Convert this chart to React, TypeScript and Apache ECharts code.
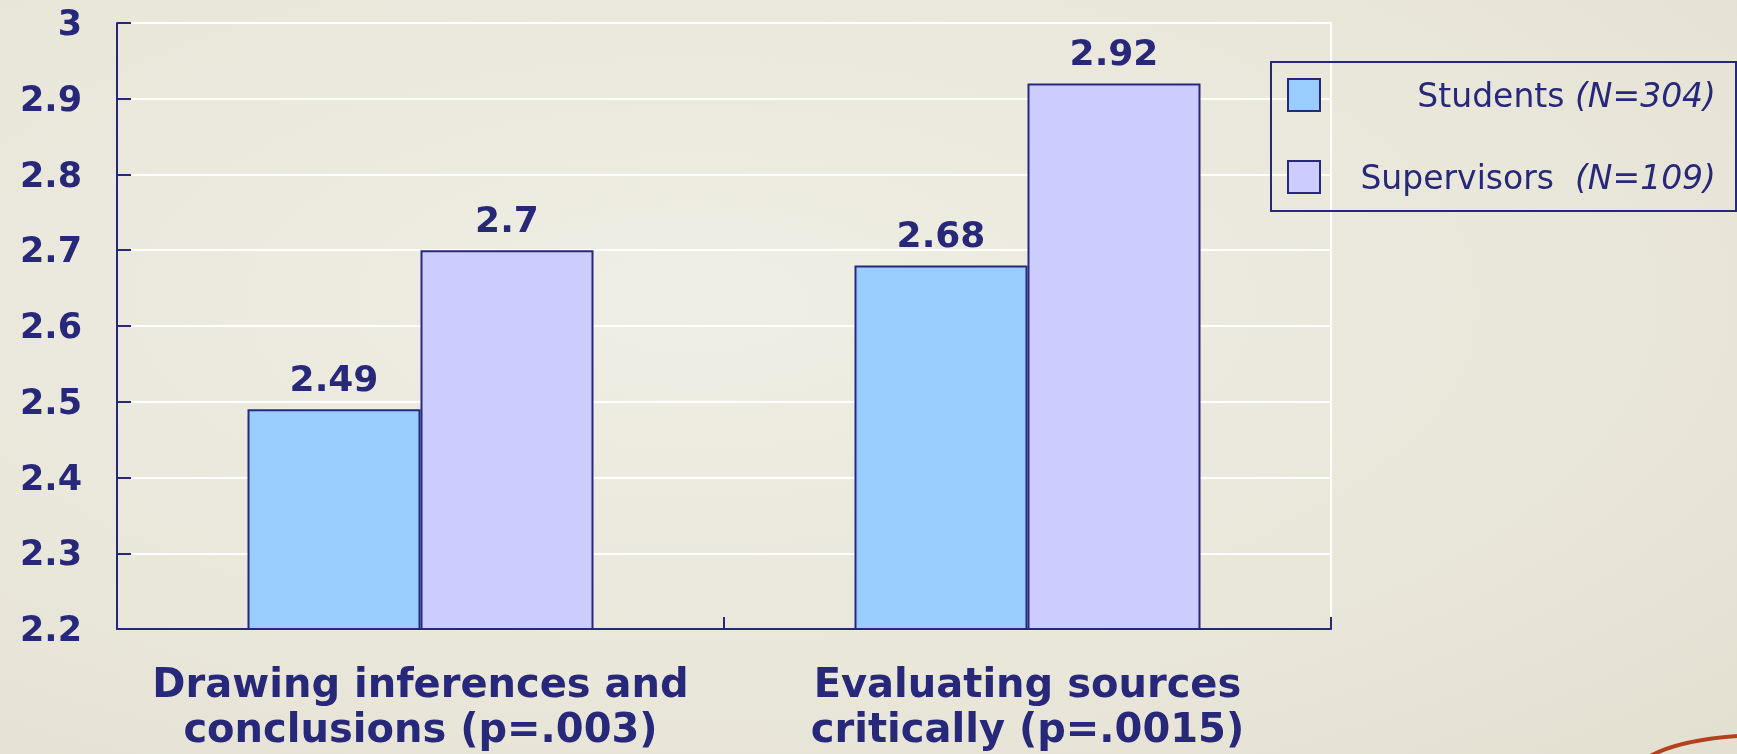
import React, { useEffect, useRef } from "react";
import * as echarts from "echarts";

const categories = [
  "Drawing inferences and\nconclusions (p=.003)",
  "Evaluating sources\ncritically (p=.0015)",
];
const seriesNames = ["Students", "Supervisors"];
const sampleSizes = [304, 109];
const studentsValues = [2.49, 2.68];
const supervisorsValues = [2.7, 2.92];
const yMin = 2.2;
const yMax = 3;
const yInterval = 0.1;

const NAVY = "#28287a";
const BOLD_FONT = "'DejaVu Sans', Verdana, sans-serif";
const LIGHT_FONT = "'DejaVu Sans', 'Noto Sans', sans-serif";

export default function App() {
  const ref = useRef<HTMLDivElement>(null);

  useEffect(() => {
    if (!ref.current) return;
    const chart = echarts.init(ref.current, null, { renderer: "svg" });
    const labelStyle = {
      show: true,
      position: "top" as const,
      distance: 13,
      color: NAVY,
      fontFamily: BOLD_FONT,
      fontWeight: "bold" as const,
      fontSize: 36,
    };
    const legendToken = {
      align: "right",
      color: NAVY,
      fontSize: 33,
      lineHeight: 32,
      fontFamily: LIGHT_FONT,
      fontWeight: "normal",
    };
    chart.setOption({
      animation: false,
      backgroundColor: "transparent",
      grid: {
        left: 117,
        right: 406,
        top: 23,
        bottom: 125,
        show: true,
        borderColor: "#ffffff",
        borderWidth: 2,
        backgroundColor: "transparent",
      },
      legend: {
        left: 1271,
        top: 62,
        orient: "vertical",
        icon: "rect",
        itemWidth: 32,
        itemHeight: 32,
        itemGap: 48,
        padding: [16, 20, 17, 16],
        borderColor: NAVY,
        borderWidth: 2,
        data: seriesNames,
        formatter: (name: string) => {
          const idx = seriesNames.indexOf(name);
          const gap = idx === 0 ? " " : "  ";
          return `{t|${name}${gap}}{i|(N=${sampleSizes[idx]})}`;
        },
        textStyle: {
          width: 391,
          color: NAVY,
          fontSize: 33,
          lineHeight: 32,
          fontFamily: LIGHT_FONT,
          fontWeight: "normal",
          rich: {
            t: { ...legendToken },
            i: { ...legendToken, fontStyle: "italic" },
          },
        },
      },
      xAxis: {
        type: "category",
        data: categories,
        axisLine: { show: true, lineStyle: { color: NAVY, width: 2 } },
        axisTick: {
          show: true,
          inside: true,
          length: 12,
          lineStyle: { color: NAVY, width: 2 },
        },
        axisLabel: {
          interval: 0,
          margin: 31,
          color: NAVY,
          fontFamily: BOLD_FONT,
          fontWeight: "bold",
          fontSize: 40,
          lineHeight: 45,
        },
        splitLine: { show: false },
      },
      yAxis: {
        type: "value",
        min: yMin,
        max: yMax,
        interval: yInterval,
        axisLine: { show: true, lineStyle: { color: NAVY, width: 2 } },
        axisTick: {
          show: true,
          inside: true,
          length: 14,
          lineStyle: { color: NAVY, width: 2 },
        },
        axisLabel: {
          margin: 35,
          color: NAVY,
          fontFamily: BOLD_FONT,
          fontWeight: "bold",
          fontSize: 35,
          formatter: (v: number) => String(Math.round(v * 10) / 10),
        },
        splitLine: { show: true, lineStyle: { color: "#ffffff", width: 2 } },
      },
      series: [
        {
          name: seriesNames[0],
          type: "bar",
          data: studentsValues,
          barGap: "0%",
          barCategoryGap: "43%",
          itemStyle: { color: "#99ccff", borderColor: NAVY, borderWidth: 2 },
          label: labelStyle,
        },
        {
          name: seriesNames[1],
          type: "bar",
          data: supervisorsValues,
          barGap: "0%",
          barCategoryGap: "43%",
          itemStyle: { color: "#ccccff", borderColor: NAVY, borderWidth: 2 },
          label: labelStyle,
        },
      ],
      graphic: [
        {
          type: "bezierCurve",
          silent: true,
          shape: { x1: 1650, y1: 756, x2: 1737, y2: 736, cpx1: 1680, cpy1: 740 },
          style: { stroke: "#b5401e", lineWidth: 4, fill: "none" },
        },
      ],
    });
    return () => chart.dispose();
  }, []);

  return (
    <div
      style={{
        position: "fixed",
        left: 0,
        top: 0,
        width: 1737,
        height: 754,
        background:
          "radial-gradient(ellipse at 40% 40%, #efeee4 0%, #e9e7da 60%, #e3e0d2 100%)",
      }}
    >
      <div ref={ref} style={{ width: 1737, height: 754 }} />
    </div>
  );
}
